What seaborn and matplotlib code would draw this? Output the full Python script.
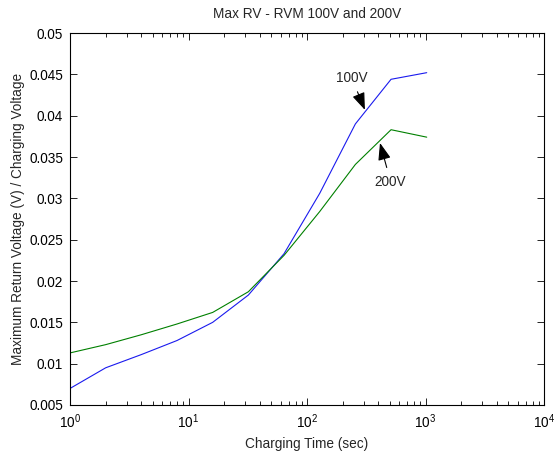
import matplotlib
matplotlib.use("Agg")
import matplotlib.pyplot as plt
import seaborn as sns
import pandas as pd

charging_time = [1, 2, 4, 8, 16, 32, 64, 128, 256, 512, 1024]
rv_100v = [0.0070, 0.0095, 0.0111, 0.0128, 0.0150, 0.0183, 0.0233, 0.0306, 0.0390, 0.0444, 0.0452]
rv_200v = [0.0113, 0.0123, 0.0135, 0.0148, 0.0162, 0.0187, 0.0231, 0.0284, 0.0341, 0.0383, 0.0374]

df = pd.concat([
    pd.DataFrame({"t": charging_time, "v": rv_100v, "s": "100V"}),
    pd.DataFrame({"t": charging_time, "v": rv_200v, "s": "200V"}),
])

sns.set_style("ticks")
plt.rcParams['font.family'] = ['Liberation Sans', 'DejaVu Sans']

fs = 9.8
fig = plt.figure(figsize=(5.54, 4.54), dpi=100)
ax = fig.add_axes([70/554, 1-405/454, (544-70)/554, (405-33)/454])
sns.lineplot(data=df, x="t", y="v", hue="s", palette={"100V": "#1a1aee", "200V": "#008000"},
             ax=ax, legend=False, linewidth=0.8, estimator=None, sort=False)
ax.set_xscale("log")
ax.set_xlim(1, 1e4)
ax.set_ylim(0.005, 0.05)
ax.set_yticks([0.005, 0.01, 0.015, 0.02, 0.025, 0.03, 0.035, 0.04, 0.045, 0.05])
ax.set_yticklabels(["0.005", "0.01", "0.015", "0.02", "0.025", "0.03", "0.035", "0.04", "0.045", "0.05"])
ax.tick_params(which="both", direction="in", top=True, right=True, labelsize=fs, colors="black")
ax.tick_params(which="major", length=5, width=0.6, pad=5)
ax.tick_params(which="minor", length=3, width=0.6)
for sp in ax.spines.values():
    sp.set_visible(True)
    sp.set_linewidth(0.8)
    sp.set_color("black")
ax.set_xlabel("Charging Time (sec)", fontsize=fs, labelpad=5)
ax.set_ylabel("Maximum Return Voltage (V) / Charging Voltage", fontsize=fs, labelpad=3)
ax.set_title("Max RV - RVM 100V and 200V", fontsize=fs, pad=11)

ax.annotate("100V", xy=(308, 0.0407), xytext=(238, 0.0446), ha="center", va="center", fontsize=fs,
            arrowprops=dict(arrowstyle="-|>,head_length=0.75,head_width=0.28", color="black", lw=0.8,
                            mutation_scale=14, shrinkA=3, shrinkB=0))
ax.annotate("200V", xy=(413, 0.0367), xytext=(508, 0.0320), ha="center", va="center", fontsize=fs,
            arrowprops=dict(arrowstyle="-|>,head_length=0.75,head_width=0.28", color="black", lw=0.8,
                            mutation_scale=14, shrinkA=3, shrinkB=0))

fig.savefig("out.png", dpi=100)
